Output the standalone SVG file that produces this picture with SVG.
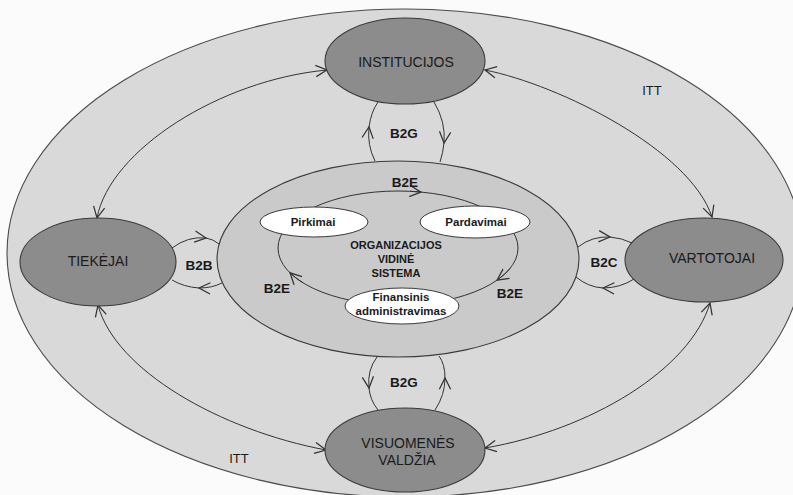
<svg xmlns="http://www.w3.org/2000/svg" width="793" height="495" viewBox="0 0 793 495">
<style>
.bg{fill:#d9d9d9;stroke:#4a4a4a;stroke-width:1.1}
.org{fill:#cacaca;stroke:#3a3a3a;stroke-width:1.1}
.node{fill:#8c8c8c;stroke:#3a3a3a;stroke-width:1.1}
.sub{fill:#ffffff;stroke:#3a3a3a;stroke-width:1}
.c{fill:none;stroke:#333;stroke-width:1}
.nl{font-family:"Liberation Sans",Arial,sans-serif;font-size:14px;fill:#1a1a1a;text-anchor:middle}
.lb{font-family:"Liberation Sans",Arial,sans-serif;font-size:13.5px;font-weight:bold;fill:#1a1a1a;text-anchor:middle}
.itt{font-family:"Liberation Sans",Arial,sans-serif;font-size:13px;fill:#1a1a1a;text-anchor:middle}
.il{font-family:"Liberation Sans",Arial,sans-serif;font-size:11.5px;font-weight:bold;fill:#1a1a1a;text-anchor:middle}
.ol{font-family:"Liberation Sans",Arial,sans-serif;font-size:11px;font-weight:bold;fill:#1a1a1a;text-anchor:middle}
</style>
<defs>
<marker id="ah" markerUnits="userSpaceOnUse" markerWidth="20" markerHeight="20" viewBox="-12 -8 16 16" refX="0" refY="0" orient="auto-start-reverse" overflow="visible">
<path d="M -9 -4.5 L 0 0 L -9 4.5" fill="none" stroke="#333" stroke-width="1"/>
</marker>
</defs>
<rect width="793" height="495" fill="#fbfbfb"/>
<ellipse class="bg" cx="405" cy="253" rx="398" ry="244"/>
<text class="itt" x="652" y="95">ITT</text>
<text class="itt" x="239" y="463">ITT</text>
<g id="organizacija">
<ellipse class="org" cx="398" cy="259" rx="181" ry="98"/>
<text class="ol" x="396" y="249">ORGANIZACIJOS</text>
<text class="ol" x="396" y="263">VIDINĖ</text>
<text class="ol" x="396" y="277">SISTEMA</text>
</g>
<g id="connectors">
<!-- ITT -->
<path class="c" d="M 97 218 C 110 150, 220 80, 327 70" marker-start="url(#ah)" marker-end="url(#ah)"/>
<path class="c" d="M 485 70 C 560 85, 690 150, 712 217" marker-start="url(#ah)" marker-end="url(#ah)"/>
<path class="c" d="M 98 305 C 115 370, 220 430, 326 450" marker-start="url(#ah)" marker-end="url(#ah)"/>
<path class="c" d="M 710 303 C 690 370, 590 430, 485 448" marker-start="url(#ah)" marker-end="url(#ah)"/>
<!-- B2G top -->
<path class="c" d="M 375 161 Q 367 145 369 127 Q 371 112 378 102" marker-mid="url(#ah)"/>
<path class="c" d="M 434 102 Q 446 122 444 143 Q 443 153 440 162" marker-mid="url(#ah)"/>
<!-- B2G bottom -->
<path class="c" d="M 377 357 Q 367 370 369 388 Q 370 400 378 410" marker-mid="url(#ah)"/>
<path class="c" d="M 435 410 Q 445 395 445 378 Q 445 364 439 356" marker-mid="url(#ah)"/>
<!-- B2B -->
<path class="c" d="M 172 248 Q 188 236 206 238 Q 213 239 219 244" marker-mid="url(#ah)"/>
<path class="c" d="M 222 283 Q 212 288 199 288 Q 184 287 172 280" marker-mid="url(#ah)"/>
<!-- B2C -->
<path class="c" d="M 578 247 Q 592 236 610 237 Q 622 238 632 243" marker-mid="url(#ah)"/>
<path class="c" d="M 634 279 Q 620 288 603 288 Q 588 287 576 277" marker-mid="url(#ah)"/>
<!-- B2E internal cycle -->
<ellipse class="c" cx="398" cy="248" rx="120" ry="57"/>
<path class="c" d="M 410 191.3 A 120 57 0 0 1 421 192.1" marker-end="url(#ah)"/>
<path class="c" d="M 510 268.5 A 120 57 0 0 1 497 280.2" marker-end="url(#ah)"/>
<path class="c" d="M 303 282.8 A 120 57 0 0 1 290 272.8" marker-end="url(#ah)"/>
</g>
<text class="lb" x="404" y="138">B2G</text>
<text class="lb" x="404" y="387">B2G</text>
<text class="lb" x="199" y="270">B2B</text>
<text class="lb" x="604" y="267">B2C</text>
<text class="lb" x="405" y="187">B2E</text>
<text class="lb" x="277" y="293">B2E</text>
<text class="lb" x="510" y="298">B2E</text>
<g id="institucijos">
<ellipse class="node" cx="405" cy="61" rx="80" ry="43"/>
<text class="nl" x="406" y="67">INSTITUCIJOS</text>
</g>
<g id="tiekejai">
<ellipse class="node" cx="98" cy="262" rx="78" ry="44"/>
<text class="nl" x="98" y="266">TIEKĖJAI</text>
</g>
<g id="vartotojai">
<ellipse class="node" cx="704" cy="260" rx="79" ry="42"/>
<text class="nl" x="712" y="263">VARTOTOJAI</text>
</g>
<g id="visuomenes-valdzia">
<ellipse class="node" cx="405" cy="450" rx="80" ry="42"/>
<text class="nl" x="408" y="448">VISUOMENĖS</text>
<text class="nl" x="407" y="465">VALDŽIA</text>
</g>
<g id="pirkimai">
<ellipse class="sub" cx="314" cy="222" rx="54" ry="15"/>
<text class="il" x="313" y="226">Pirkimai</text>
</g>
<g id="pardavimai">
<ellipse class="sub" cx="475" cy="222" rx="55" ry="16"/>
<text class="il" x="476" y="226">Pardavimai</text>
</g>
<g id="finansinis">
<ellipse class="sub" cx="402" cy="306" rx="57" ry="18"/>
<text class="il" x="401" y="301">Finansinis</text>
<text class="il" x="401" y="315">administravimas</text>
</g>
</svg>
